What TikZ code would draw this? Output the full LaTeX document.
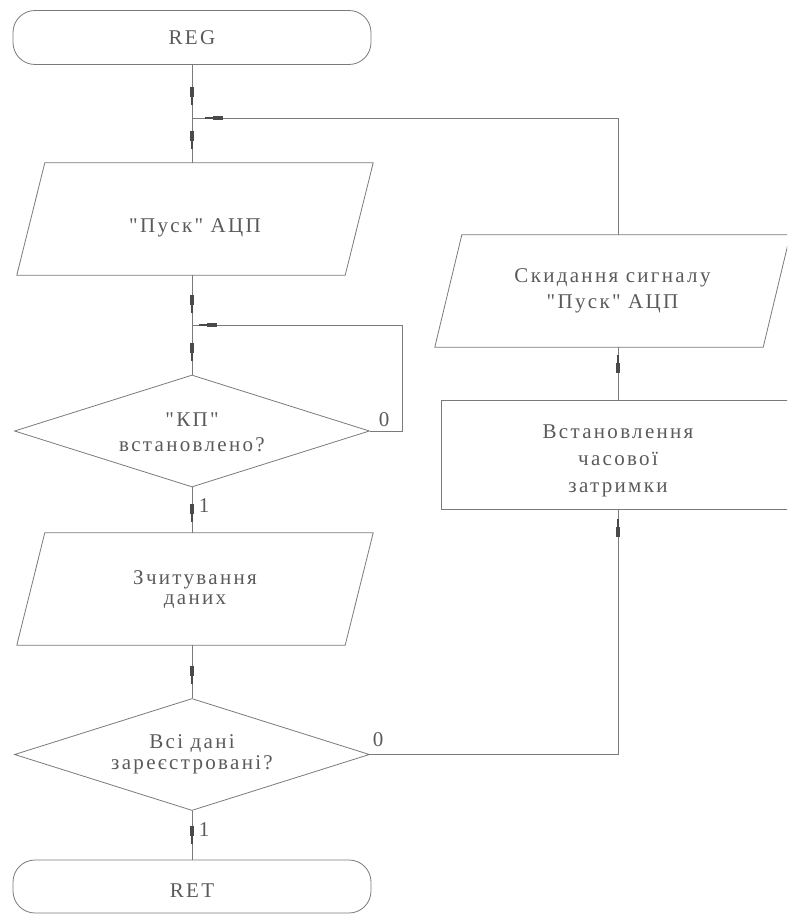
\documentclass[tikz,border=0pt]{standalone}
\usepackage{fontspec}
\setmainfont{Liberation Serif}[LetterSpace=11, Ligatures=TeXOff]
\usetikzlibrary{shapes.geometric,calc}
\definecolor{ln}{HTML}{7A7A7A}
\definecolor{txt}{HTML}{5A5A5A}
\definecolor{mkc}{HTML}{4A4A4A}
\newcommand\mkd[2]{\fill[mkc] ({#1-2.3},{#2-9}) rectangle ({#1+2.3},{#2+1}); \fill[mkc] ({#1-1.3},{#2+1}) rectangle ({#1+1.3},{#2+9});}
\newcommand\mku[2]{\fill[mkc] ({#1-1.3},{#2-9}) rectangle ({#1+1.3},{#2-1}); \fill[mkc] ({#1-2.3},{#2-1}) rectangle ({#1+2.3},{#2+9});}
\newcommand\mkl[2]{\fill[mkc] ({#1-9},{#2-1.3}) rectangle ({#1-1},{#2+1.3}); \fill[mkc] ({#1-1},{#2-2.3}) rectangle ({#1+9},{#2+2.3});}
\newcommand\paraout[2]{\draw[shp] ([xshift=#2pt]#1.north west) -- ([xshift=#2pt]#1.north east) -- ([xshift=-#2pt]#1.south east) -- ([xshift=-#2pt]#1.south west) -- cycle;}
\begin{document}
\begin{tikzpicture}[x=1pt,y=-1pt,
  shp/.style={draw=ln, line width=0.8pt},
  txtst/.style={text=txt, inner sep=0pt, align=center, font=\fontsize{21}{25}\selectfont},
  term/.style={shp, txtst, rectangle, rounded corners=22pt, minimum width=358pt, minimum height=54pt},
  parabox/.style={txtst, rectangle, minimum width=328pt, minimum height=112pt},
  dec/.style={shp, txtst, diamond, aspect=3.17, minimum width=355pt, minimum height=112pt},
  proc/.style={shp, txtst, rectangle, minimum width=354pt, minimum height=109pt},
  lbl/.style={text=txt, inner sep=0pt, font=\fontsize{21}{25}\selectfont},
  con/.style={draw=ln, line width=0.8pt}]
\useasboundingbox (0,0) rectangle (787,915);
\clip (0,0) rectangle (787,915);

\node[term] (reg) at (192,37.5) {REG};
\node[parabox] (p1) at (195,219) {\rule{0pt}{32pt}"Пуск" АЦП};
\node[dec] (d1) at (192,431) {\rule{0pt}{17pt}"КП"\\встановлено?};
\node[parabox, font=\fontsize{21}{20}\selectfont] (p2) at (195,589) {\rule{0pt}{16pt}Зчитування\\даних};
\node[dec, font=\fontsize{21}{21}\selectfont] (d2) at (192,754.5) {Всі дані\\зареєстровані?};
\node[term, minimum height=53pt] (ret) at (192,886.5) {\rule{0pt}{21pt}RET};
\node[proc, font=\fontsize{21}{27}\selectfont] (box) at (618,454.5) {\rule{0pt}{26pt}Встановлення\\часової\\затримки};
\node[parabox, font=\fontsize{21}{26}\selectfont] (p3) at (612.5,291) {Скидання сигналу\\"Пуск" АЦП};

\paraout{p1}{14}
\paraout{p2}{14}
\paraout{p3}{13.5}

\coordinate (j1) at (192,118);
\coordinate (j2) at (192,325);

\draw[con] (reg.south) -- (reg.south |- p1.north);
\draw[con] (p3.north -| box.north) |- (j1);
\draw[con] (p1.south -| reg.south) -- (d1.north);
\draw[con] (d1.east) -- ++(32.5,0) |- (j2);
\draw[con] (d1.south) -- (d1.south |- p2.north);
\draw[con] (p2.south -| d1.south) -- (d2.north);
\draw[con] (d2.south) -- (ret.north);
\draw[con] (d2.east) -| (box.south);
\draw[con] (box.north) -- (box.north |- p3.south);

\node[lbl] (z1) at (384,420) {0};
\node[lbl] (z2) at (378,740) {0};
\node[lbl] (o1) at (204,506) {1};
\node[lbl] (o2) at (204,830) {1};

\mkd{192}{96}
\mkd{192}{140}
\mkd{192}{304}
\mkd{192}{352}
\mkd{192}{513}
\mkd{192}{675}
\mkd{192}{835}
\mku{618}{528}
\mku{618}{364}
\mkl{214}{118}
\mkl{208}{325}
\end{tikzpicture}
\end{document}
